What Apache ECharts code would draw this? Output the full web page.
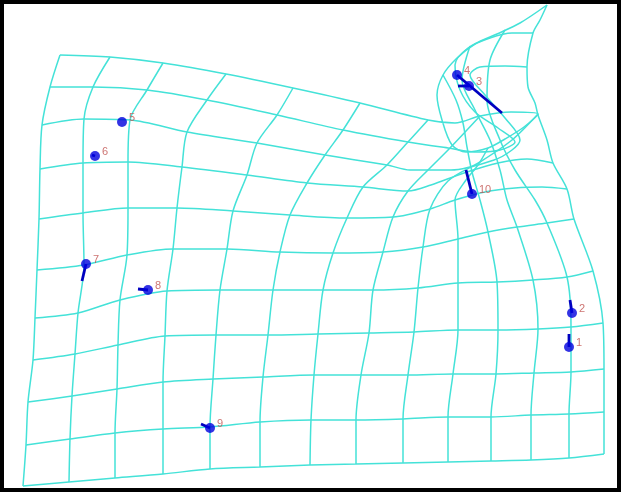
<!DOCTYPE html>
<html>
<head>
<meta charset="utf-8">
<script src="https://cdn.jsdelivr.net/npm/echarts@6/dist/echarts.min.js"></script>
<style>
  html, body { margin: 0; padding: 0; background: #fff; }
  #warpChart { width: 622px; height: 494px; }
</style>
</head>
<body>
<div id="warpChart"></div>
<script>
// grid rows, top to bottom (points read left to right, pixel units)
var gridRows = [
    [[60,55],[110,57],[163,63],[226,74],[293,88],[360,103],[428,120],[455,123],[480,116],[511,112],[538,114],[524,127],[505,139],[488,148],[466,152],[452,145],[442,120],[437,95],[443,75],[457,58],[475,44],[497,34],[520,23],[547,5]],
    [[50,87],[93,87],[147,90],[207,100],[277,115],[343,130],[408,142],[448,148],[478,152],[500,150],[515,142],[498,128],[475,112],[460,90],[455,65],[468,48],[490,38],[512,33],[533,33]],
    [[42,125],[84,119],[130,120],[187,132],[257,143],[325,155],[387,165],[410,170],[451,170],[494,160],[512,150],[520,140],[505,118],[485,95],[470,75],[480,67],[505,66],[527,67]],
    [[40,169],[83,163],[128,162],[182,167],[247,175],[307,183],[363,187],[408,191],[431,185],[464,173],[498,163],[527,159],[553,163]],
    [[39,219],[83,213],[128,208],[177,208],[233,211],[290,215],[347,218],[393,217],[430,209],[455,200],[485,192],[515,188],[542,187],[567,189]],
    [[37,270],[84,265],[127,255],[173,249],[227,249],[280,252],[333,253],[383,252],[423,247],[458,239],[488,232],[517,227],[547,223],[574,219]],
    [[35,318],[78,313],[120,300],[167,291],[220,290],[273,290],[323,290],[373,290],[418,288],[458,283],[497,282],[533,280],[567,277],[593,271]],
    [[33,360],[75,354],[118,345],[165,336],[216,335],[268,335],[318,334],[369,333],[414,332],[458,330],[498,330],[538,329],[571,327],[603,323]],
    [[28,402],[72,396],[117,389],[163,382],[213,379],[263,377],[314,375],[361,375],[408,375],[453,374],[496,374],[534,373],[571,372],[604,369]],
    [[26,445],[70,439],[115,433],[163,429],[210,427],[260,422],[311,420],[356,420],[403,419],[448,417],[491,417],[531,415],[569,414],[604,412]],
    [[23,486],[69,482],[115,478],[163,474],[210,469],[260,467],[310,465],[356,464],[403,463],[448,462],[491,461],[531,460],[569,458],[604,454]]
];

// grid columns, left to right (points read top to bottom)
var gridCols = [
    [[60,55],[50,87],[42,125],[40,169],[39,219],[37,270],[35,318],[33,360],[28,402],[26,445],[23,486]],
    [[110,57],[93,87],[84,119],[83,163],[83,213],[84,265],[78,313],[75,354],[72,396],[70,439],[69,482]],
    [[163,63],[147,90],[130,120],[128,162],[128,208],[127,255],[120,300],[118,345],[117,389],[115,433],[115,478]],
    [[226,74],[207,100],[187,132],[182,167],[177,208],[173,249],[167,291],[165,336],[163,382],[163,429],[163,474]],
    [[293,88],[277,115],[257,143],[247,175],[233,211],[227,249],[220,290],[216,335],[213,379],[210,427],[210,469]],
    [[360,103],[343,130],[325,155],[307,183],[290,215],[280,252],[273,290],[268,335],[263,377],[260,422],[260,467]],
    [[428,120],[408,142],[387,165],[363,187],[347,218],[333,253],[323,290],[318,334],[314,375],[311,420],[310,465]],
    [[480,116],[450,148],[428,170],[408,191],[393,217],[383,252],[373,290],[369,333],[361,375],[356,420],[356,464]],
    [[538,114],[512,140],[480,162],[448,181],[430,209],[423,247],[418,288],[414,332],[408,375],[403,419],[403,463]],
    [[488,148],[478,165],[466,180],[455,200],[458,239],[458,283],[458,330],[453,374],[448,417],[448,462]],
    [[443,75],[456,100],[463,123],[467,147],[472,172],[480,200],[488,232],[497,282],[498,330],[496,374],[491,417],[491,461]],
    [[470,46],[462,80],[475,110],[490,140],[500,170],[507,200],[517,227],[533,280],[538,329],[534,373],[531,415],[531,460]],
    [[505,30],[490,60],[487,100],[500,140],[515,170],[535,200],[547,223],[567,277],[571,327],[571,372],[569,414],[569,458]],
    [[547,5],[540,20],[533,33],[527,67],[528,87],[535,103],[538,115],[547,140],[553,163],[567,189],[574,219],[593,271],[603,323],[604,369],[604,412],[604,454]]
];

// landmarks: label, dot position, end of displacement line
var lmNames = ['1', '2', '3', '4', '5', '6', '7', '8', '9', '10'];
var lmDots = [[569,347],[572,313],[469,86],[457,75],[122,122],[95,156],[86,264],[148,290],[210,428],[472,194]];
var lmEnds = [[569,334],[570,300],[458,86],[502,113],[122,122],[92,155],[82,281],[138,289],[201,424],[466,170]];

var warpChart = echarts.init(document.getElementById('warpChart'));

var series = [];
gridRows.concat(gridCols).forEach(function (pts) {
    series.push({
        type: 'line',
        data: pts,
        smooth: 0.3,
        showSymbol: false,
        silent: true,
        lineStyle: { color: '#44e2d8', width: 1.5 },
        z: 1
    });
});
lmDots.forEach(function (p, i) {
    series.push({
        type: 'line',
        data: [p, lmEnds[i]],
        showSymbol: false,
        silent: true,
        lineStyle: { color: '#0000c0', width: 2.8 },
        z: 3
    });
});
series.push({
    type: 'scatter',
    data: lmDots.map(function (p, i) { return { name: lmNames[i], value: p }; }),
    symbolSize: 10,
    itemStyle: { color: '#0000dd' },
    label: {
        show: true,
        position: 'right',
        formatter: '{b}',
        color: '#c0504d',
        fontSize: 11,
        fontFamily: 'Liberation Sans',
        offset: [-3, -4]
    },
    z: 4
});

var option = {
    animation: false,
    backgroundColor: '#fff',
    grid: { left: 0, right: 0, top: 0, bottom: 0 },
    xAxis: { type: 'value', min: 0, max: 622, show: false },
    yAxis: { type: 'value', min: 0, max: 494, inverse: true, show: false },
    graphic: [{
        type: 'rect',
        shape: { x: 2, y: 2, width: 617, height: 488 },
        style: { fill: 'none', stroke: '#000', lineWidth: 4 },
        z: 10
    }],
    series: series
};
warpChart.setOption(option);
</script>
</body>
</html>
